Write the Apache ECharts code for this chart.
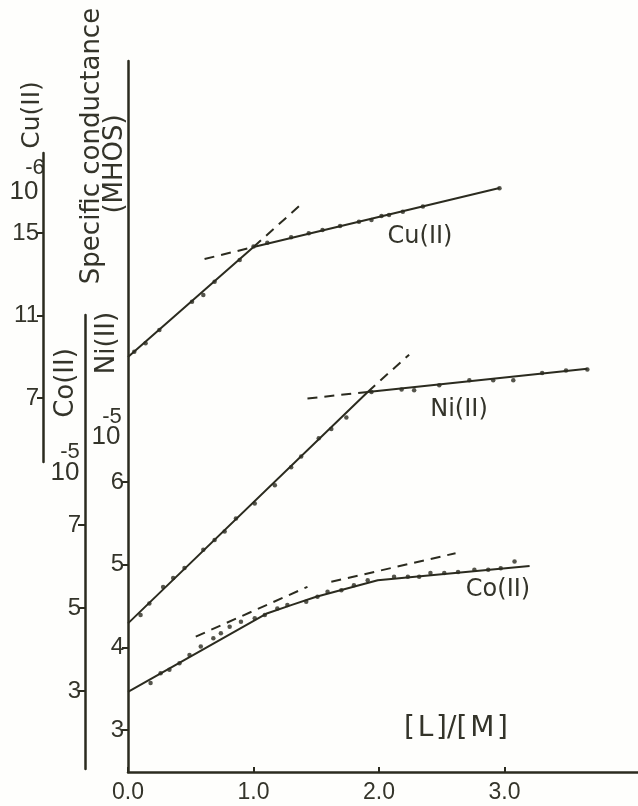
<!DOCTYPE html>
<html><head><meta charset="utf-8">
<script src="https://cdn.jsdelivr.net/npm/echarts@6/dist/echarts.min.js"></script>
<style>html,body{margin:0;padding:0;background:#fefefc}#c{width:638px;height:806px}</style>
</head><body><div id="c"></div>
<script>
// ---- axis ticks ----
const xTickValues = [0, 1, 2, 3];
const xTickLabels = ['0.0', '1.0', '2.0', '3.0'];
const niTickValues = [3, 4, 5, 6];
const cuTickValues = [7, 11, 15];
const coTickValues = [3, 5, 7];

// ---- Cu(II) (left outer axis, x10^-6) ----
const cuX = [0.05,0.14,0.25,0.51,0.60,0.69,0.89,1.00,1.11,1.30,1.44,1.55,1.69,1.84,1.94,2.02,2.08,2.19,2.35,2.96];
const cuY = [9.24,9.65,10.30,11.67,12.00,12.64,13.69,14.34,14.53,14.79,14.99,15.15,15.34,15.55,15.63,15.82,15.87,16.03,16.28,17.17];
const cuFitX = [0, 1.0, 2.96];
const cuFitY = [8.99, 14.32, 17.18];
const cuSteepX = [1.0, 1.39];
const cuSteepY = [14.32, 16.45];
const cuFlatX = [0.61, 1.0];
const cuFlatY = [13.74, 14.32];

// ---- Ni(II) (main axis, x10^-5) ----
const niX = [0.10,0.17,0.28,0.36,0.45,0.60,0.69,0.77,0.86,1.01,1.17,1.30,1.38,1.52,1.62,1.74,1.94,2.18,2.28,2.48,2.72,2.91,3.07,3.30,3.49,3.66];
const niY = [4.39,4.53,4.73,4.84,4.96,5.18,5.30,5.40,5.56,5.74,5.96,6.18,6.31,6.53,6.64,6.78,7.09,7.12,7.11,7.17,7.23,7.23,7.23,7.32,7.35,7.36];
const niFitX = [0, 1.91, 3.66];
const niFitY = [4.29, 7.09, 7.37];
const niSteepX = [1.91, 2.24];
const niSteepY = [7.09, 7.54];
const niFlatX = [1.43, 1.91];
const niFlatY = [7.01, 7.09];

// ---- Co(II) (middle axis, x10^-5) ----
const coX = [0.18,0.26,0.33,0.41,0.49,0.58,0.68,0.74,0.81,0.90,1.01,1.09,1.19,1.27,1.42,1.51,1.59,1.70,1.80,1.91,2.12,2.23,2.32,2.41,2.52,2.63,2.76,2.87,2.97,3.08];
const coY = [3.19,3.43,3.51,3.67,3.87,4.07,4.27,4.39,4.55,4.67,4.75,4.83,4.99,5.07,5.15,5.27,5.39,5.43,5.55,5.67,5.75,5.75,5.75,5.84,5.84,5.87,5.92,5.92,5.96,6.12];
const coFitX = [0, 1.1, 1.3, 1.5, 1.99, 3.2];
const coFitY = [2.98, 4.86, 5.07, 5.27, 5.67, 6.01];
const coLowX = [0.54, 1.43];
const coLowY = [4.31, 5.51];
const coHighX = [1.62, 2.61];
const coHighY = [5.63, 6.32];

const INK = '#2b2b1f';
const TXT = '#34342a';
const pairs = (xs, ys) => xs.map((x, i) => [x, ys[i]]);

const LEFT = 128;
const X_MAX = (638 - LEFT) / 125.5;

function yAxisCfg(grid, min, max, ticks, offset, tickLen) {
  return {
    gridIndex: grid, type: 'value', min: min, max: max, offset: offset,
    axisLine: { show: true, onZero: false, lineStyle: { color: INK, width: 2.5 } },
    axisTick: { show: true, length: tickLen, customValues: ticks, lineStyle: { color: INK, width: 2 } },
    axisLabel: { customValues: ticks, margin: 4, fontSize: 24, fontFamily: 'Liberation Sans', color: TXT },
    splitLine: { show: false }
  };
}

function lineS(xi, xs, ys, dashed) {
  return {
    type: 'line', xAxisIndex: xi, yAxisIndex: xi, data: pairs(xs, ys), symbol: 'none',
    lineStyle: { color: INK, width: 2, type: dashed ? [10, 7] : 'solid' }, z: 3
  };
}
function dotS(xi, xs, ys) {
  return {
    type: 'scatter', xAxisIndex: xi, yAxisIndex: xi, data: pairs(xs, ys), symbol: 'circle',
    symbolSize: 4.5, itemStyle: { color: INK }, z: 4
  };
}

const chart = echarts.init(document.getElementById('c'));
const option = {
  backgroundColor: '#fefefc',
  animation: false,
  grid: [
    { left: LEFT, right: 0, top: 61, bottom: 34, containLabel: false, outerBoundsMode: 'none' },
    { left: LEFT, right: 0, top: 153, bottom: 344, containLabel: false, outerBoundsMode: 'none' },
    { left: LEFT, right: 0, top: 315, bottom: 37, containLabel: false, outerBoundsMode: 'none' }
  ],
  xAxis: [
    {
      gridIndex: 0, type: 'value', min: 0, max: X_MAX,
      axisLine: { show: true, onZero: false, lineStyle: { color: INK, width: 2.5 } },
      axisTick: { show: true, inside: true, length: 5, customValues: xTickValues, lineStyle: { color: INK, width: 2 } },
      axisLabel: { customValues: xTickValues, margin: 9, fontSize: 23, fontFamily: 'Liberation Sans', color: TXT,
        formatter: v => xTickLabels[xTickValues.indexOf(v)] },
      splitLine: { show: false }
    },
    { gridIndex: 1, type: 'value', min: 0, max: X_MAX, show: false },
    { gridIndex: 2, type: 'value', min: 0, max: X_MAX, show: false }
  ],
  yAxis: [
    yAxisCfg(0, 2.492, 11.093, niTickValues, 0, 6),
    yAxisCfg(1, 3.897, 18.879, cuTickValues, 85, 6),
    yAxisCfg(2, 1.12, 12.06, coTickValues, 43, 7)
  ],
  series: [
    lineS(1, cuFitX, cuFitY, false), lineS(1, cuSteepX, cuSteepY, true), lineS(1, cuFlatX, cuFlatY, true), dotS(1, cuX, cuY),
    lineS(0, niFitX, niFitY, false), lineS(0, niSteepX, niSteepY, true), lineS(0, niFlatX, niFlatY, true), dotS(0, niX, niY),
    lineS(2, coFitX, coFitY, false), lineS(2, coLowX, coLowY, true), lineS(2, coHighX, coHighY, true), dotS(2, coX, coY)
  ],
  graphic: [
    // axis titles (rotated)
    { type: 'text', x: 92, y: 146, rotation: Math.PI / 2, style: { text: 'Specific conductance', font: '26px "DejaVu Sans"', fill: TXT, textAlign: 'center', textVerticalAlign: 'middle' } },
    { type: 'text', x: 115, y: 164, rotation: Math.PI / 2, style: { text: '(MHOS)', font: '26px "DejaVu Sans"', fill: TXT, textAlign: 'center', textVerticalAlign: 'middle' } },
    { type: 'text', x: 32, y: 115, rotation: Math.PI / 2, style: { text: 'Cu(II)', font: '25px "DejaVu Sans"', fill: TXT, textAlign: 'center', textVerticalAlign: 'middle' } },
    { type: 'text', x: 24, y: 192, style: { text: '10', font: '26px "Liberation Sans"', fill: TXT, textAlign: 'center', textVerticalAlign: 'middle' } },
    { type: 'text', x: 35, y: 168, style: { text: '-6', font: '22px "Liberation Sans"', fill: TXT, textAlign: 'center', textVerticalAlign: 'middle' } },
    { type: 'text', x: 66, y: 383, rotation: Math.PI / 2, style: { text: 'Co(II)', font: '26px "DejaVu Sans"', fill: TXT, textAlign: 'center', textVerticalAlign: 'middle' } },
    { type: 'text', x: 65, y: 473, style: { text: '10', font: '26px "Liberation Sans"', fill: TXT, textAlign: 'center', textVerticalAlign: 'middle' } },
    { type: 'text', x: 70, y: 452, style: { text: '-5', font: '22px "Liberation Sans"', fill: TXT, textAlign: 'center', textVerticalAlign: 'middle' } },
    { type: 'text', x: 107, y: 343, rotation: Math.PI / 2, style: { text: 'Ni(II)', font: '26px "DejaVu Sans"', fill: TXT, textAlign: 'center', textVerticalAlign: 'middle' } },
    { type: 'text', x: 106, y: 437, style: { text: '10', font: '26px "Liberation Sans"', fill: TXT, textAlign: 'center', textVerticalAlign: 'middle' } },
    { type: 'text', x: 112, y: 417, style: { text: '-5', font: '22px "Liberation Sans"', fill: TXT, textAlign: 'center', textVerticalAlign: 'middle' } },
    // curve labels
    { type: 'text', x: 420, y: 237, style: { text: 'Cu(II)', font: '24px "DejaVu Sans"', fill: TXT, textAlign: 'center', textVerticalAlign: 'middle' } },
    { type: 'text', x: 459, y: 410, style: { text: 'Ni(II)', font: '24px "DejaVu Sans"', fill: TXT, textAlign: 'center', textVerticalAlign: 'middle' } },
    { type: 'text', x: 498, y: 590, style: { text: 'Co(II)', font: '24px "DejaVu Sans"', fill: TXT, textAlign: 'center', textVerticalAlign: 'middle' } },
    // x axis title
    { type: 'text', x: 456, y: 729, style: { text: '[\u200AL\u200A]/[\u200AM\u200A]', font: '28px "DejaVu Sans"', fill: TXT, textAlign: 'center', textVerticalAlign: 'middle' } }
  ]
};
chart.setOption(option);
</script>
</body></html>
